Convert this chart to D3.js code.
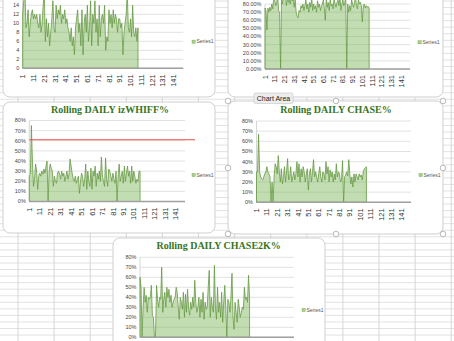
<html>
<head>
<script src="https://d3js.org/d3.v7.min.js"></script>
<style>
body { margin: 0; background: #fff; }
svg { display: block; overflow: hidden; }
</style>
</head>
<body>
<div id="sheet"></div>
<script>
// category axis of every chart
var categories = d3.range(1, 151);
var tickLabels = ["1", "11", "21", "31", "41", "51", "61", "71", "81", "91", "101", "111", "121", "131", "141"];
var seriesName = "Series1";

// top left chart (count)
var dailyCount = [12, 15, 18, 9, 10, 13, 7, 10, 12, 13,
  11, 12, 11, 12, 10, 9, 12, 8, 10, 14,
  17, 6, 11, 7, 10, 5, 8, 11, 15, 9,
  8, 14, 11, 13, 12, 14, 10, 12, 11, 13,
  10, 11, 9, 8, 6, 9, 5, 7, 3, 9,
  11, 13, 8, 10, 5, 13, 3, 10, 12, 8,
  14, 6, 9, 15, 5, 12, 10, 15, 8, 11,
  5, 14, 7, 11, 12, 10, 14, 4, 7, 6,
  13, 10, 12, 9, 13, 10, 12, 11, 8, 11,
  11, 9, 10, 3, 8, 10, 12, 17, 9, 8,
  11, 7, 14, 8, 7, 9, 6, 9];

// top right chart (percent, two decimals)
var dailyPct = [75, 72, 48, 75, 70, 76, 72, 80, 74, 88,
  85, 78, 82, 90, 72, 70, 0, 86, 80, 92,
  85, 90, 78, 88, 82, 86, 80, 90, 84, 88,
  76, 85, 70, 65, 63, 72, 70, 78, 75, 80,
  72, 78, 85, 74, 80, 70, 82, 76, 88, 72,
  80, 74, 78, 70, 84, 76, 80, 72, 78, 80,
  85, 74, 60, 88, 76, 82, 72, 85, 78, 80,
  74, 88, 80, 76, 82, 85, 78, 90, 72, 80,
  85, 78, 82, 88, 0, 80, 70, 78, 72, 85,
  80, 76, 82, 88, 78, 74, 86, 80, 82, 78,
  58, 78, 80, 75, 78, 76, 77, 75];

var izWhiffPct = [26, 27, 75, 40, 15, 22, 37, 30, 12, 25,
  28, 25, 30, 27, 32, 28, 35, 40, 0, 30,
  37, 33, 30, 15, 25, 20, 18, 28, 30, 27,
  22, 30, 25, 28, 20, 25, 30, 22, 27, 42,
  35, 28, 22, 20, 25, 18, 22, 25, 8, 20,
  28, 25, 15, 22, 37, 12, 30, 20, 15, 33,
  12, 30, 25, 35, 15, 28, 22, 30, 20, 44,
  25, 20, 15, 43, 22, 15, 32, 30, 25, 20,
  28, 22, 18, 30, 0, 25, 37, 20, 25, 30,
  18, 35, 20, 28, 35, 25, 30, 18, 35, 20,
  30, 25, 18, 22, 20, 30, 30];
var izWhiffTarget = 61;

var chasePct = [30, 30, 67, 30, 25, 23, 22, 25, 28, 30,
  35, 30, 28, 25, 0, 20, 0, 25, 38, 35,
  28, 46, 30, 20, 33, 18, 25, 35, 20, 30,
  43, 22, 25, 35, 20, 25, 30, 22, 28, 40,
  25, 38, 20, 33, 25, 35, 30, 20, 28, 33,
  12, 28, 33, 20, 30, 42, 25, 30, 25, 20,
  28, 35, 25, 20, 30, 28, 22, 40, 28, 35,
  20, 32, 25, 30, 20, 28, 22, 38, 25, 30,
  28, 20, 22, 41, 0, 25, 27, 30, 26, 42,
  28, 18, 25, 15, 28, 20, 28, 25, 22, 28,
  25, 27, 22, 30, 33, 34, 35];

var chase2kPct = [60, 50, 0, 30, 50, 35, 42, 25, 40, 38,
  40, 52, 22, 20, 0, 0, 52, 38, 30, 40,
  38, 70, 25, 38, 45, 30, 50, 40, 48, 35,
  42, 30, 35, 38, 40, 50, 45, 30, 18, 40,
  35, 28, 45, 20, 43, 25, 48, 30, 22, 35,
  28, 40, 30, 57, 35, 25, 30, 40, 20, 38,
  25, 45, 18, 35, 28, 30, 50, 67, 20, 40,
  30, 25, 72, 30, 18, 50, 25, 35, 20, 45,
  15, 35, 52, 30, 0, 38, 35, 25, 40, 64,
  20, 8, 35, 25, 15, 38, 30, 20, 25, 30,
  28, 50, 38, 40, 35, 62, 40];

var W = 454, H = 341;
var svg = d3.select("#sheet").append("svg").attr("width", W).attr("height", H);

// spreadsheet cells behind the charts
var colX = d3.range(18, W, 36.1);
var rowY = d3.range(1, H, 6.55);
svg.append("g").selectAll("line").data(rowY).enter().append("line")
  .attr("x1", 0).attr("x2", W).attr("y1", function(d) { return d; }).attr("y2", function(d) { return d; })
  .attr("stroke", "#e2e2e2").attr("stroke-width", 1);
svg.append("g").selectAll("line").data(colX).enter().append("line")
  .attr("y1", 0).attr("y2", H).attr("x1", function(d) { return d; }).attr("x2", function(d) { return d; })
  .attr("stroke", "#d6d6d6").attr("stroke-width", 1);

function drawChart(c) {
  var g = svg.append("g");
  g.append("rect")
    .attr("x", c.box[0]).attr("y", c.box[1]).attr("width", c.box[2]).attr("height", c.box[3])
    .attr("rx", 7).attr("fill", "#fff").attr("stroke", "#cfcfcf").attr("stroke-width", 1);

  if (c.title) {
    g.append("text").attr("x", c.titleX).attr("y", c.titleY)
      .attr("text-anchor", "middle")
      .style("font-family", "'Liberation Serif', serif").style("font-weight", "bold")
      .style("font-size", "10px").style("fill", "#38761d")
      .text(c.title);
  }

  var x = d3.scalePoint().domain(categories).range([c.left, c.right]);
  var y = d3.scaleLinear().domain([0, c.max]).range([c.bottom, c.top]);

  // gridlines
  g.append("g").selectAll("line").data(c.ticks).enter().append("line")
    .attr("x1", c.left).attr("x2", c.right)
    .attr("y1", function(d) { return y(d); }).attr("y2", function(d) { return y(d); })
    .attr("stroke", "#dadada").attr("stroke-width", 0.8);

  // y labels
  g.append("g").selectAll("text").data(c.ticks).enter().append("text")
    .attr("x", c.left - 3.5).attr("y", function(d) { return y(d); }).attr("dy", "0.35em")
    .attr("text-anchor", "end")
    .style("font-family", "'Liberation Sans', Arial, sans-serif").style("font-size", "5.5px")
    .style("fill", "#444")
    .text(c.fmt);

  g.append("line").attr("x1", c.left).attr("x2", c.left).attr("y1", y(c.ticks[c.ticks.length - 1])).attr("y2", c.bottom)
    .attr("stroke", "#cccccc").attr("stroke-width", 0.8);

  var area = d3.area()
    .x(function(d, i) { return x(categories[i]); })
    .y0(y(0))
    .y1(function(d) { return y(d); });

  g.append("path").datum(c.data).attr("d", area)
    .attr("fill", "#70ad47").attr("fill-opacity", 0.42)
    .attr("stroke", "#669944").attr("stroke-width", 0.8).attr("stroke-linejoin", "round");

  // category axis
  g.append("line").attr("x1", c.left).attr("x2", c.right).attr("y1", c.bottom).attr("y2", c.bottom)
    .attr("stroke", "#a0a0a0").attr("stroke-width", 1.4);

  g.append("g").selectAll("text").data(tickLabels).enter().append("text")
    .attr("transform", function(d) { return "translate(" + x(+d) + "," + (c.bottom + 6) + ") rotate(-90)"; })
    .attr("dy", "0.35em").attr("text-anchor", "end")
    .style("font-family", "'Liberation Sans', Arial, sans-serif").style("font-size", "7.5px")
    .style("fill", "#333")
    .text(function(d) { return d; });

  if (c.target != null) {
    g.append("line").attr("x1", c.left).attr("x2", c.targetEnd)
      .attr("y1", y(c.target)).attr("y2", y(c.target))
      .attr("stroke", "#f04848").attr("stroke-width", 1.1);
  }

  // legend
  g.append("rect").attr("x", c.legend[0]).attr("y", c.legend[1] - 1.6).attr("width", 3.2).attr("height", 3.2)
    .attr("fill", "#a9cf8f").attr("stroke", "#70ad47").attr("stroke-width", 0.4);
  g.append("text").attr("x", c.legend[0] + 4.5).attr("y", c.legend[1]).attr("dy", "0.35em")
    .style("font-family", "'Liberation Sans', Arial, sans-serif").style("font-size", "5px")
    .style("fill", "#555")
    .text(seriesName);
  return g;
}

var pct = function(d) { return d + "%"; };
var pct2 = function(d) { return d.toFixed(2) + "%"; };

drawChart({ box: [3, -30, 212, 127], data: dailyCount, max: 16, ticks: d3.range(0, 17, 2),
  fmt: function(d) { return d; }, left: 22.7, right: 183.3, bottom: 68.3, top: -3.7, legend: [192, 41.7] });

drawChart({ box: [228, -30, 215, 127], data: dailyPct, max: 80, ticks: d3.range(0, 81, 10),
  fmt: pct2, left: 265, right: 410, bottom: 69, top: 4, legend: [418, 42.3] });

drawChart({ box: [3, 102, 212, 131], title: "Rolling DAILY izWHIFF%", titleX: 110, titleY: 113.3,
  data: izWhiffPct, max: 80, ticks: d3.range(0, 81, 10), fmt: pct,
  left: 29.3, right: 185, bottom: 201.5, top: 120.5, legend: [192, 175],
  target: izWhiffTarget, targetEnd: 195 });

drawChart({ box: [228, 101, 215, 133], title: "Rolling DAILY CHASE%", titleX: 336, titleY: 113.3,
  data: chasePct, max: 80, ticks: d3.range(0, 81, 10), fmt: pct,
  left: 256.5, right: 411, bottom: 202.3, top: 121, legend: [419, 175] });

drawChart({ box: [113, 238, 212, 140], title: "Rolling DAILY CHASE2K%", titleX: 218.7, titleY: 249,
  data: chase2kPct, max: 80, ticks: d3.range(0, 81, 10), fmt: pct,
  left: 140, right: 294, bottom: 337.3, top: 257.3, legend: [302, 310] });

// selection handles of the active chart
var handles = [[228, 101], [336, 101], [443, 101], [443, 168], [443, 234], [336, 234], [228, 234], [228, 168]];
svg.append("g").selectAll("circle").data(handles).enter().append("circle")
  .attr("cx", function(d) { return d[0]; }).attr("cy", function(d) { return d[1]; }).attr("r", 2.8)
  .attr("fill", "#fff").attr("stroke", "#a8a8a8").attr("stroke-width", 0.8);

// tooltip
var tip = svg.append("g");
tip.append("rect").attr("x", 254).attr("y", 93).attr("width", 39).attr("height", 10.5).attr("rx", 1.5)
  .attr("fill", "#ededed").attr("stroke", "#c4c4c4").attr("stroke-width", 0.6);
tip.append("text").attr("x", 273.5).attr("y", 98.3).attr("dy", "0.35em").attr("text-anchor", "middle")
  .style("font-family", "'Liberation Sans', Arial, sans-serif").style("font-size", "7px").style("fill", "#222")
  .text("Chart Area");
</script>
</body>
</html>
